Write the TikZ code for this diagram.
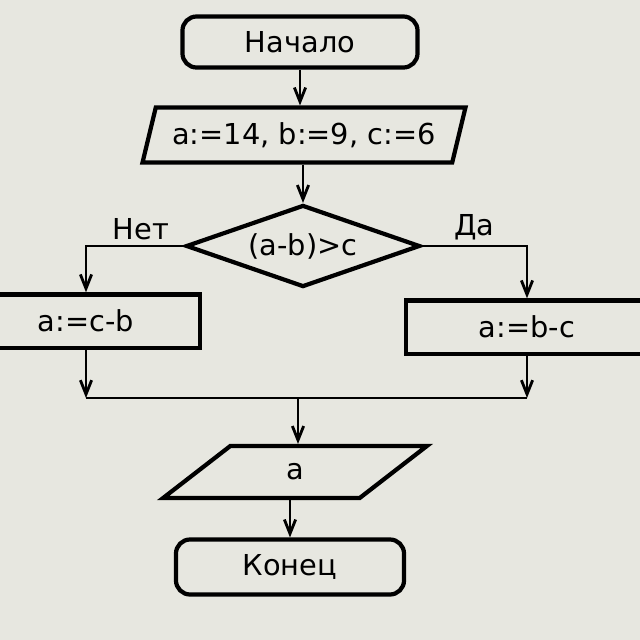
\documentclass[tikz,border=0pt]{standalone}
\usepackage{fontspec}
\setmainfont{DejaVu Sans}
\usetikzlibrary{
        arrows.meta,
        positioning,
        shapes.geometric
    }
\definecolor{screen}{RGB}{231,231,224}
\tikzset{>={Straight Barb[length=10pt,width=8pt]},auto}
\tikzset{
    term/.style={draw,line width=3pt,rounded corners=10pt,minimum width=5.875cm,minimum height=1.275cm},
    io/.style={draw,trapezium,trapezium stretches=true,line width=3pt,inner sep=0pt},
    cond/.style={draw,diamond,aspect=2.85,line width=3pt,inner sep=0pt,minimum width=5.85cm,minimum height=2.05cm},
    proc/.style={draw,rectangle,line width=3pt,minimum height=1.33cm},
    flow/.style={line width=2pt}
}

\begin{document}
\begin{tikzpicture}[x=0.025cm,y=-0.025cm,font=\fontsize{20.5}{24}\selectfont]
    \fill[screen] (0,0) rectangle (640,640);
    \clip (0,0) rectangle (640,640);
    \node[term] (start) at (300,42) {Начало};
    \node[io,trapezium left angle=65,trapezium right angle=115,minimum width=8.075cm,minimum height=1.375cm] (input) at (304,135) {a:=14, b:=9, c:=6};
    \node[cond] (test) at (303,246) {(a-b)>c};
    \node[proc,minimum width=5.7cm] (no) at (86,321) {a:=c-b};
    \node[proc,minimum width=6.05cm] (yes) at (527,327) {a:=b-c};
    \coordinate (join) at (298,398);
    \node[io,trapezium left angle=61,trapezium right angle=119,minimum width=6.6cm,minimum height=1.3cm] (output) at (295,472) {a};
    \node[term,minimum width=5.7cm,minimum height=1.375cm] (stop) at (290,567) {Конец};
    \draw[flow,->] (start) -- (start |- input.north);
    \draw[flow,->] (input.south -| test.north) -- (test.north);
    \draw[flow,->] (test.west) -| node[above,pos=0.22] {Нет} (no.north);
    \draw[flow,->] (test.east) -| node[above,pos=0.25] {Да} (yes.north);
    \draw[flow,->] (no) -- (no |- join);
    \draw[flow,->] (yes) -- (yes |- join);
    \draw[flow] (no |- join) -- (yes |- join);
    \draw[flow,->] (join) -- (join |- output.north);
    \draw[flow,->] (output.south -| stop.north) -- (stop.north);
\end{tikzpicture}
\end{document}
